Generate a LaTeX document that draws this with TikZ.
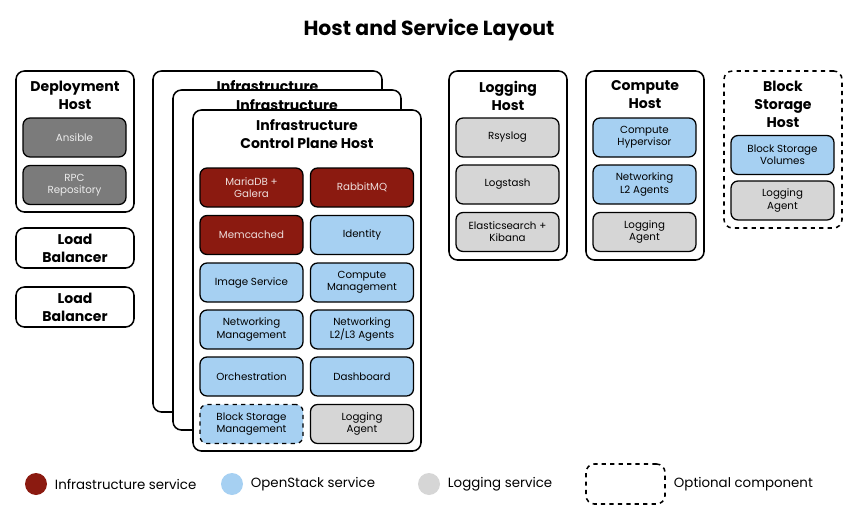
\documentclass[tikz,border=0pt]{standalone}
\usepackage{fontspec}
\setmainfont{Poppins}
\usetikzlibrary{positioning}
\def\px{0.025cm}
\definecolor{infra}{HTML}{8B1A10}
\definecolor{ostack}{HTML}{A6D0F2}
\definecolor{logsvc}{HTML}{D6D6D6}
\definecolor{deploy}{HTML}{7B7B7B}
\tikzset{
  host/.style = {draw, line width=1.1pt, rounded corners=6pt, fill=white, inner sep=0pt},
  hosttitle/.style = {font=\fontsize{10}{12.8}\selectfont\bfseries, align=center, anchor=north},
  svc/.style = {draw, line width=0.9pt, rounded corners=5pt, minimum width=103*\px,
    minimum height=39*\px, align=center, inner sep=1pt, font=\fontsize{7.3}{8.6}\selectfont},
  infsvc/.style = {svc, fill=infra, text=white!85!infra},
  ossvc/.style = {svc, fill=ostack},
  logs/.style = {svc, fill=logsvc},
  depsvc/.style = {svc, fill=deploy, text=white!85!deploy},
  optional/.style = {dashed},
  legtext/.style = {anchor=west, font=\fontsize{9.5}{11}\selectfont}
}
\begin{document}
\begin{tikzpicture}[x=\px, y=-\px]
\useasboundingbox (0,0) rectangle (858,520);
\node[font=\fontsize{14.5}{16}\selectfont\bfseries] (title) at (429,30) {Host and Service Layout};

% deployment and load balancers
\node[host, minimum width=118*\px, minimum height=141*\px] (dephost) at (75,141.5) {};
\node[hosttitle] (deptitle) at (75,76) {Deployment\\Host};
\node[depsvc] (ansible) at (74.5,137.5) {Ansible};
\node[depsvc] (rpcrepo) at (74.5,185) {RPC\\Repository};
\node[host, minimum width=118*\px, minimum height=40*\px, hosttitle, anchor=center] (lb1) at (75,248) {Load\\Balancer};
\node[host, minimum width=118*\px, minimum height=40*\px, hosttitle, anchor=center] (lb2) at (75,307) {Load\\Balancer};

% infrastructure hosts
\node[host, minimum width=229*\px, minimum height=341*\px] (infra1) at (267.5,241.5) {};
\node[hosttitle] (infra1title) at (267.5,76) {Infrastructure};
\node[host, minimum width=228*\px, minimum height=340*\px] (infra2) at (287,260) {};
\node[hosttitle] (infra2title) at (287,95) {Infrastructure};
\node[host, minimum width=228*\px, minimum height=341*\px] (infra3) at (307,280.5) {};
\node[hosttitle] (infra3title) at (307,115) {Infrastructure\\Control Plane Host};
\node[infsvc] (mariadb) at (251.5,187.5) {MariaDB +\\Galera};
\node[infsvc] (rabbitmq) at (362,187.5) {RabbitMQ};
\node[infsvc] (memcached) at (251.5,235) {Memcached};
\node[ossvc] (identity) at (362,235) {Identity};
\node[ossvc] (image) at (251.5,282.5) {Image Service};
\node[ossvc] (compmgmt) at (362,282.5) {Compute\\Management};
\node[ossvc] (netmgmt) at (251.5,329.5) {Networking\\Management};
\node[ossvc] (netagents) at (362,329.5) {Networking\\L2/L3 Agents};
\node[ossvc] (orch) at (251.5,376.5) {Orchestration};
\node[ossvc] (dashboard) at (362,376.5) {Dashboard};
\node[ossvc, optional] (blockmgmt) at (251.5,424) {Block Storage\\Management};
\node[logs] (infralog) at (362,424) {Logging\\Agent};

% logging host
\node[host, minimum width=118*\px, minimum height=189*\px] (loghost) at (508,165.5) {};
\node[hosttitle] (logtitle) at (508,76) {Logging\\Host};
\node[logs] (rsyslog) at (507.5,137.5) {Rsyslog};
\node[logs] (logstash) at (507.5,184.5) {Logstash};
\node[logs] (elastic) at (507.5,232) {Elasticsearch +\\Kibana};

% compute host
\node[host, minimum width=118*\px, minimum height=189*\px] (comphost) at (645,165.5) {};
\node[hosttitle] (comptitle) at (645,76) {Compute\\Host};
\node[ossvc] (hyper) at (644.5,137.5) {Compute\\Hypervisor};
\node[ossvc] (l2agents) at (644.5,184.5) {Networking\\L2 Agents};
\node[logs] (complog) at (644.5,232) {Logging\\Agent};

% block storage host
\node[host, optional, minimum width=118*\px, minimum height=157*\px] (blockhost) at (783,149.5) {};
\node[hosttitle] (blocktitle) at (783,76) {Block\\Storage\\Host};
\node[ossvc] (volumes) at (782.5,155) {Block Storage\\Volumes};
\node[logs] (blocklog) at (782.5,200.5) {Logging\\Agent};

% legend
\node[circle, fill=infra, minimum size=22*\px, inner sep=0pt] (leginf) at (36,484) {};
\node[legtext] (leginftext) at (50,484) {Infrastructure service};
\node[circle, fill=ostack, minimum size=22*\px, inner sep=0pt] (legos) at (232,484) {};
\node[legtext] (legostext) at (246,484) {OpenStack service};
\node[circle, fill=logsvc, minimum size=22*\px, inner sep=0pt] (leglog) at (429,484) {};
\node[legtext] (leglogtext) at (443,484) {Logging service};
\node[host, optional, minimum width=79*\px, minimum height=40*\px] (legopt) at (625.5,484) {};
\node[legtext] (legopttext) at (669,484) {Optional component};
\end{tikzpicture}
\end{document}
